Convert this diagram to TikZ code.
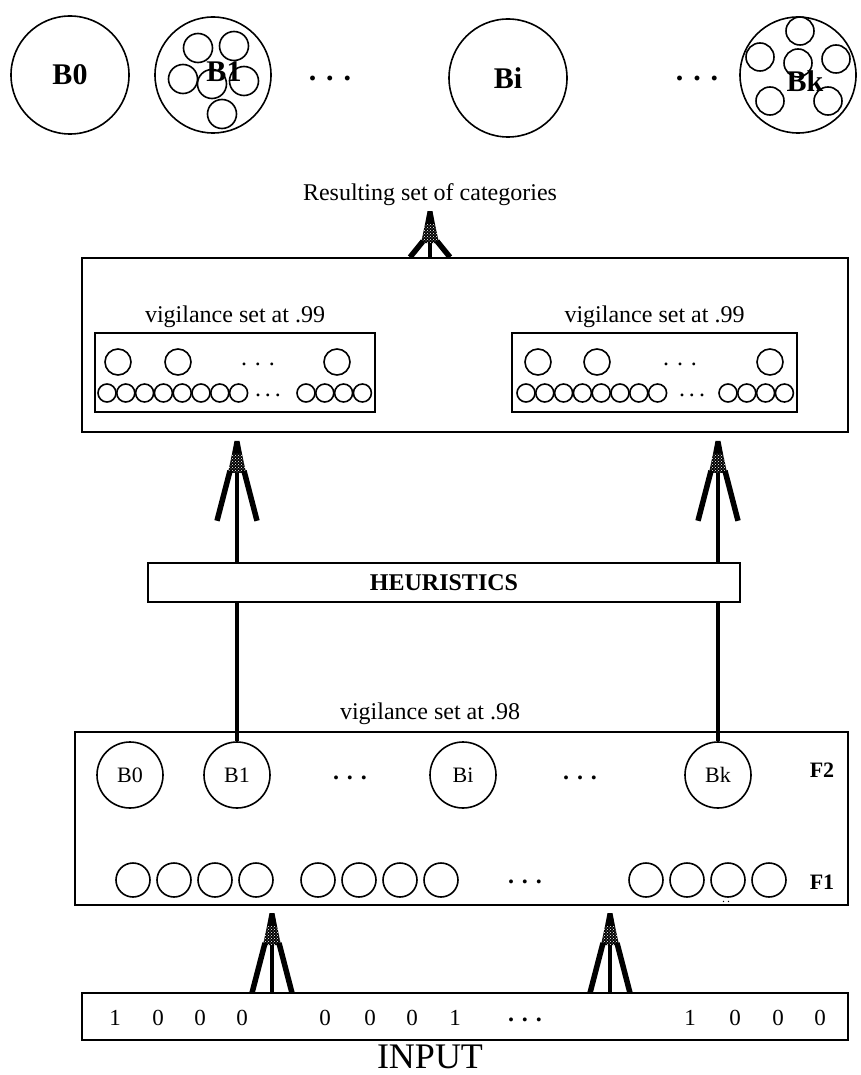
\documentclass[tikz,border=0pt]{standalone}
\usepackage{fontspec}
\setmainfont{Liberation Serif}
\usetikzlibrary{patterns,calc,positioning}

\tikzset{
  catcircle/.style={circle, draw, line width=1.6pt, minimum size=118, inner sep=0pt},
  catname/.style={font=\fontsize{30}{30}\selectfont\bfseries, inner sep=0pt},
  netbox/.style={draw, line width=1.6pt, inner sep=0pt},
  f2unit/.style={circle, draw, line width=1.6pt, minimum size=66, inner sep=0pt,
                 font=\fontsize{22}{22}\selectfont},
  txt/.style={font=\fontsize{#1}{#1}\selectfont, inner sep=0pt},
  shaft/.style={line width=3.5pt},
  forkhead/.pic={
    \fill (-2.5,0) -- (2.5,0) -- (5,13) -- (-5,13) -- cycle;
    \fill (-5,13) -- (5,13) -- (9,32) -- (-9,32) -- cycle;
    \fill[pattern=crosshatch dots, pattern color=white] (-5,13) -- (5,13) -- (9,32) -- (-9,32) -- cycle;
    \draw[line width=5.5pt] (-7,30) -- (-20,#1);
    \draw[line width=5.5pt] (7,30) -- (20,#1);
  }
}

\begin{document}
\begin{tikzpicture}[x=1pt, y=-1pt, line width=1.6pt]
    \useasboundingbox (0,0) rectangle (861,1075);

    % Resulting categories
    \node[catcircle] (c0) at (70,75) {};
    \node[catname] (c0name) at (c0) {B0};
    \node[catcircle, minimum size=116] (c1) at (213,75) {};
    \foreach \dx/\dy in {-15/-27, 21/-29, -30/4, -1/9, 31/6, 9/39}
        \draw ($(c1)+(\dx,\dy)$) circle (14.5);
    \node[catname] (c1name) at ($(c1)+(11,-3)$) {B1};
    \node[txt=30, font=\fontsize{30}{30}\selectfont\bfseries] (cdots1) at (330,78) {.\,\,.\,\,.};
    \node[catcircle] (ci) at (508,78) {};
    \node[catname] (ciname) at (ci) {Bi};
    \node[txt=30, font=\fontsize{30}{30}\selectfont\bfseries] (cdots2) at (697,78) {.\,\,.\,\,.};
    \node[catcircle, minimum size=116] (ck) at (798,75) {};
    \foreach \dx/\dy in {2/-44, -38/-18, 0/-12, 38/-16, -28/26, 30/26}
        \draw ($(ck)+(\dx,\dy)$) circle (14);
    \node[catname] (ckname) at ($(ck)+(7,6)$) {Bk};

    \node[txt=24] (result) at (430,195) {Resulting set of categories};

    % Second level networks
    \node[netbox, minimum width=766, minimum height=174] (topbox) at (465,345) {};
    \node[netbox, minimum width=280, minimum height=79] (leftnet) at (235,372.5) {};
    \node[netbox, minimum width=285, minimum height=79] (rightnet) at (654.5,372.5) {};
    \node[txt=24, above=4pt of leftnet] (leftvig) {vigilance set at .99};
    \node[txt=24, above=4pt of rightnet] (rightvig) {vigilance set at .99};
    \foreach \x in {118,178,337} \draw (\x,362) circle (13);
    \foreach \x in {538,597,770} \draw (\x,362) circle (13);
    \node[txt=24] (ldots) at (258,364) {.\,\,.\,\,.};
    \node[txt=24] (rdots) at (680,364) {.\,\,.\,\,.};
    \foreach \i in {0,...,7} {
        \draw (107+18.8*\i,393) circle (9);
        \draw (526+18.8*\i,393) circle (9);
    }
    \foreach \i in {0,...,3} {
        \draw (306+18.8*\i,393) circle (9);
        \draw (728+18.8*\i,393) circle (9);
    }
    \node[txt=24] (lsdots) at (268,395) {.\,.\,.};
    \node[txt=24] (rsdots) at (692,395) {.\,.\,.};

    % Heuristics
    \node[netbox, minimum width=592, minimum height=39,
          font=\fontsize{24}{24}\selectfont\bfseries] (heur) at (444,582.5) {HEURISTICS};

    % ART network
    \node[netbox, minimum width=773, minimum height=173] (fbox) at (461.5,818.5) {};
    \node[txt=24, above=6pt of fbox.north -| result] (fvig) {vigilance set at .98};
    \node[f2unit] (f0) at (130,775) {B0};
    \node[f2unit] (f1) at (237,775) {B1};
    \node[f2unit] (fi) at (463,775) {Bi};
    \node[f2unit] (fk) at (718,775) {Bk};
    \node[txt=24, font=\fontsize{24}{24}\selectfont\bfseries] (fdots1) at (350,778) {.\,\,.\,\,.};
    \node[txt=24, font=\fontsize{24}{24}\selectfont\bfseries] (fdots2) at (580,778) {.\,\,.\,\,.};
    \node[txt=22, font=\fontsize{22}{22}\selectfont\bfseries] (f2lab) at (822,770) {F2};
    \node[txt=22, font=\fontsize{22}{22}\selectfont\bfseries] (f1lab) at (822,882) {F1};
    \foreach \x in {133,174,215,256,318,359,400,441,646,687,728,769}
        \draw (\x,880) circle (17);
    \node[txt=24, font=\fontsize{24}{24}\selectfont\bfseries] (f1dots) at (525,882) {.\,\,.\,\,.};
    \node[txt=12] (f1tick) at (726,902) {.\,.};

    % Input
    \node[netbox, minimum width=766, minimum height=47] (inbox) at (465,1016.5) {};
    \foreach \x/\d in {115/1,158/0,200/0,242/0,325/0,370/0,412/0,455/1,690/1,735/0,778/0,820/0}
        \node[txt=23] at (\x,1018) {\d};
    \node[txt=24, font=\fontsize{24}{24}\selectfont\bfseries] (indots) at (525,1020) {.\,\,.\,\,.};
    \node[txt=36] (inlab) at (430,1057) {INPUT};

    % Connections
    \coordinate (tip0) at ($(topbox.north -| result)+(0,-46)$);
    \draw[shaft] (topbox.north -| result) -- (tip0);
    \pic at (tip0) {forkhead=46};

    \coordinate (tip1) at ($(topbox.south -| f1)+(0,8)$);
    \coordinate (tip2) at ($(topbox.south -| fk)+(0,8)$);
    \draw[shaft] (heur.north -| f1) -- (tip1);
    \draw[shaft] (heur.north -| fk) -- (tip2);
    \pic at (tip1) {forkhead=80};
    \pic at (tip2) {forkhead=80};
    \draw[shaft] (f1.north) -- (heur.south -| f1);
    \draw[shaft] (fk.north) -- (heur.south -| fk);

    \coordinate (tip3) at (272,913);
    \coordinate (tip4) at (610,913);
    \draw[shaft] (inbox.north -| tip3) -- (tip3);
    \draw[shaft] (inbox.north -| tip4) -- (tip4);
    \pic at (tip3) {forkhead=80};
    \pic at (tip4) {forkhead=80};
\end{tikzpicture}
\end{document}
